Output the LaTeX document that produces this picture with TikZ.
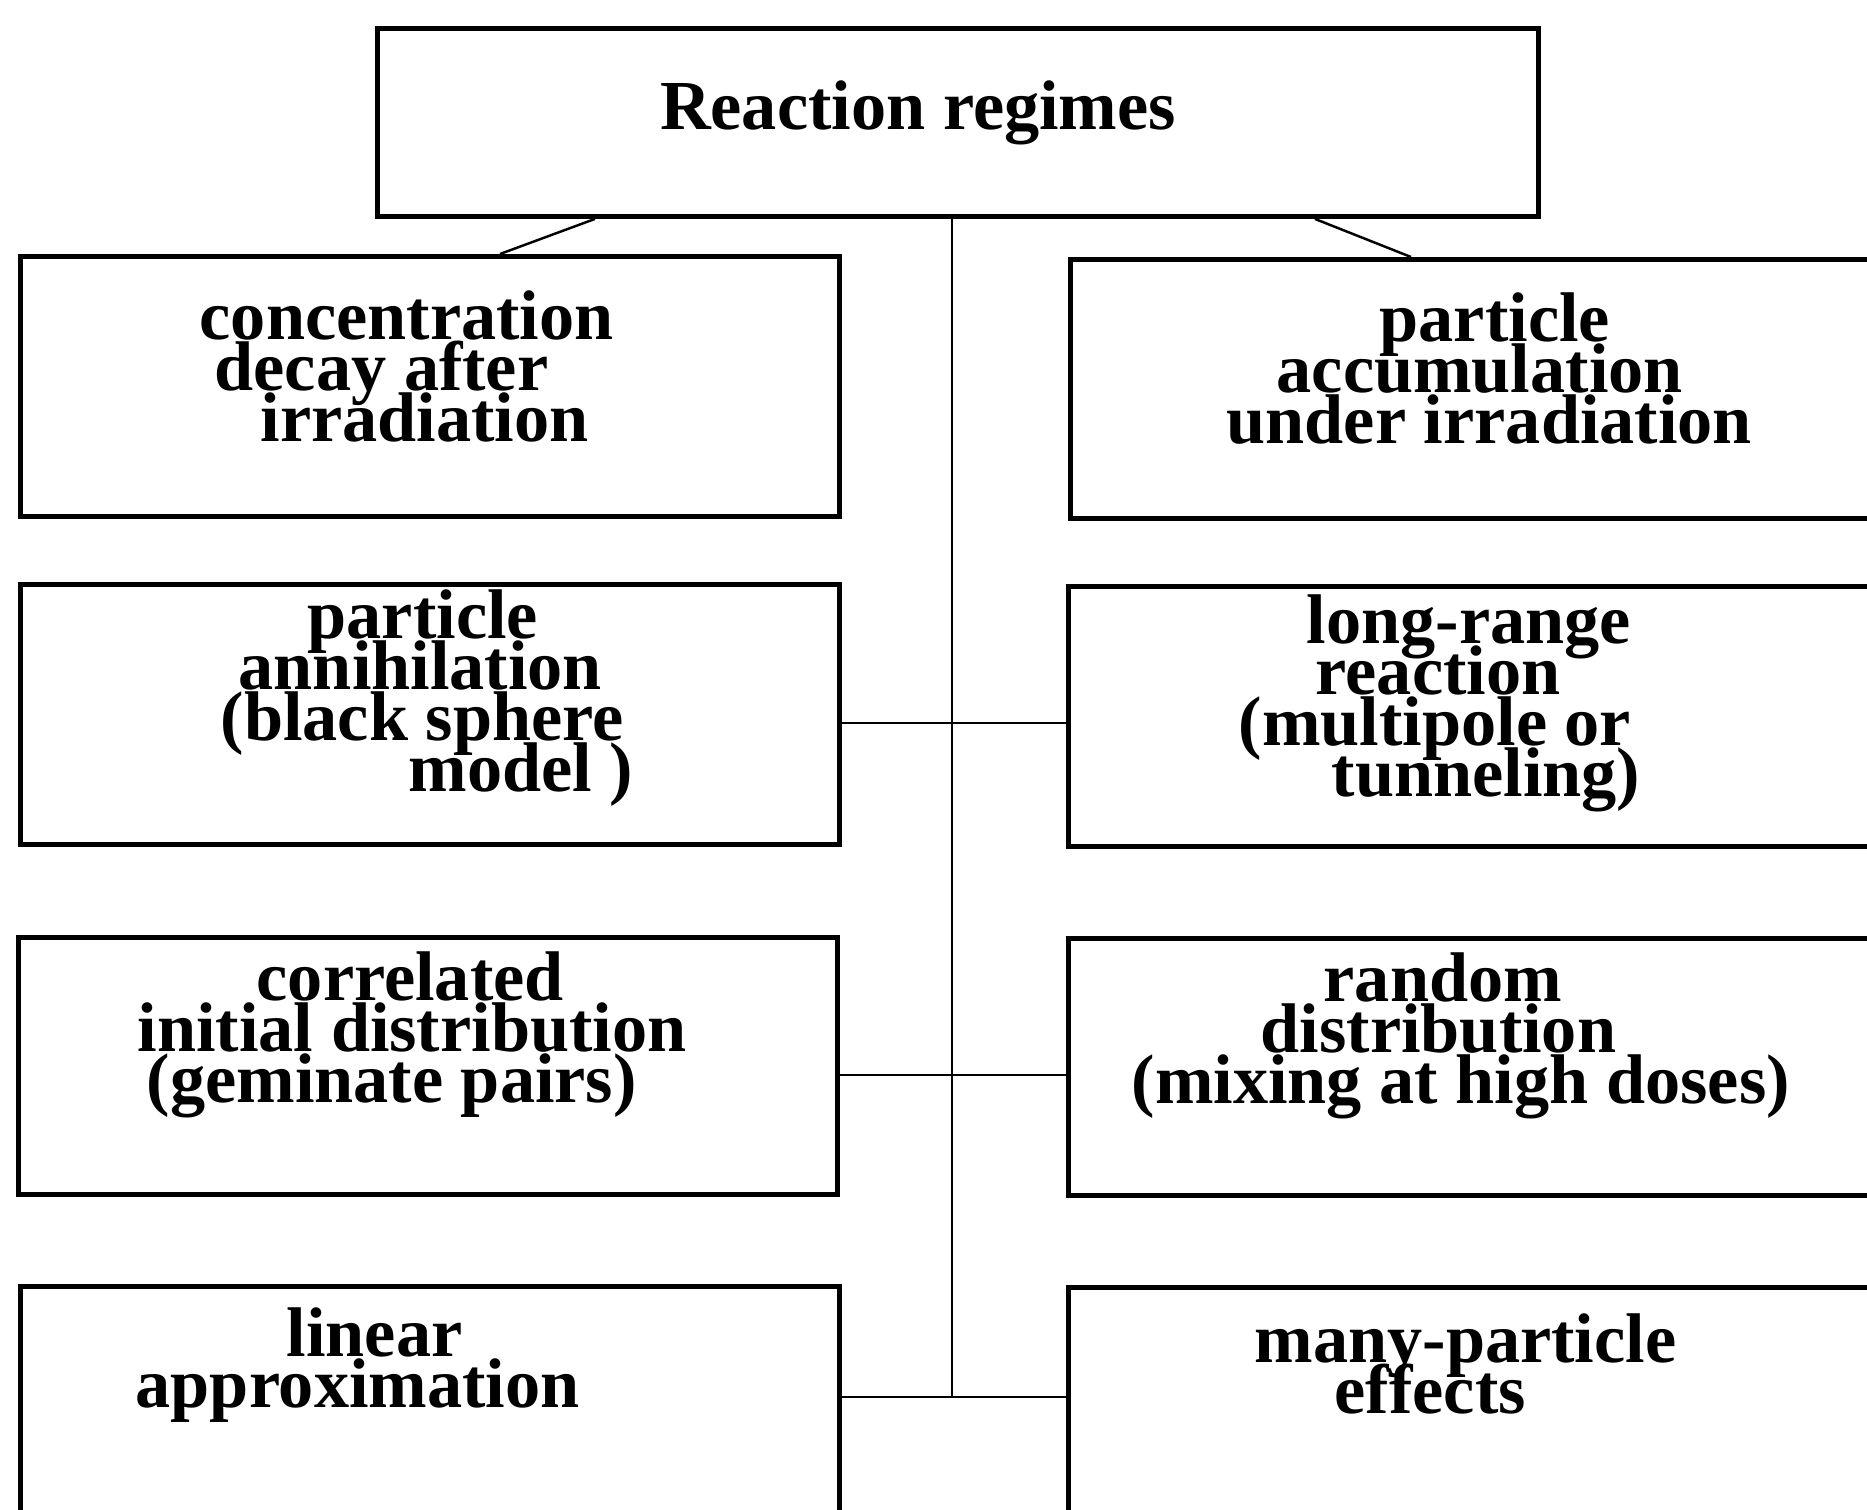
\documentclass[tikz,border=0pt]{standalone}
\usepackage{fontspec}
\setmainfont{Liberation Serif}
\usetikzlibrary{positioning}
\newcommand\tightlines{\lineskiplimit=-100pt\relax\lineskip=0pt\relax}

\begin{document}
\begin{tikzpicture}[
  % Node Styles
  topbox/.style={rectangle, draw, line width=1.4pt, minimum width=11.61cm, minimum height=1.88cm, anchor=north west, inner sep=0pt},
  regbox/.style={rectangle, draw, line width=1.4pt, minimum height=2.60cm, anchor=north west, inner sep=0pt},
  lbox/.style={regbox, minimum width=8.19cm},
  rbox/.style={regbox, minimum width=8.40cm},
  regtext/.style={anchor=west, align=left, inner sep=0pt},
  % Line Styles
  link/.style={line width=0.7pt},
]
\tikzset{font=\bfseries\fontsize{20}{14.5}\selectfont\tightlines}
\useasboundingbox (0,0) rectangle (18.67,-15.10);

% Boxes
\node[topbox] (regimes) at (3.75,-0.26) {};
\node[lbox] (L_decay) at (0.18,-2.54) {};
\node[rbox, minimum height=2.59cm] (R_accum) at (10.68,-2.57) {};
\node[lbox] (L_anni) at (0.18,-5.82) {};
\node[rbox] (R_range) at (10.66,-5.84) {};
\node[lbox, minimum height=2.57cm] (L_gem) at (0.16,-9.35) {};
\node[rbox, minimum height=2.57cm] (R_random) at (10.66,-9.36) {};
\node[lbox, minimum height=2.26cm] (L_linear) at (0.18,-12.84) {};
\node[rbox, minimum height=2.26cm] (R_many) at (10.66,-12.85) {};

% Box texts
\node[regtext, anchor=center] (T_regimes) at (9.18,-1.13) {Reaction regimes};
\node[regtext] (T_decay) at (1.99,-3.66) {concentration\\\hspace*{0.15cm}decay after\\\hspace*{0.61cm}irradiation};
\node[regtext] (T_accum) at (12.26,-3.69) {\hspace*{1.53cm}particle\\\hspace*{0.50cm}accumulation\\under irradiation};
\node[regtext] (T_anni) at (2.20,-6.98) {\hspace*{0.87cm}particle\\\hspace*{0.18cm}annihilation\\(black sphere\\\hspace*{1.88cm}model )};
\node[regtext] (T_range) at (12.38,-7.03) {\hspace*{0.68cm}long-range\\\hspace*{0.77cm}reaction\\(multipole or\\\hspace*{0.93cm}tunneling)};
\node[regtext] (T_gem) at (1.37,-10.35) {\hspace*{1.19cm}correlated\\initial distribution\\\hspace*{0.09cm}(geminate pairs)};
\node[regtext] (T_random) at (11.31,-10.36) {\hspace*{1.92cm}random\\\hspace*{1.29cm}distribution\\(mixing at high doses)};
\node[regtext] (T_linear) at (1.35,-13.65) {\hspace*{1.51cm}linear\\approximation};
\node[regtext] (T_many) at (12.54,-13.64) {many-particle\\\hspace*{0.80cm}effects};

% Junctions on the trunk
\coordinate (J_anni) at (9.52,-7.23);
\coordinate (J_gem) at (9.52,-10.75);
\coordinate (J_linear) at (9.52,-13.97);

% Connectors
\draw[link] ([xshift=2.20cm]regimes.south west) -- ([xshift=4.82cm]L_decay.north west);
\draw[link] ([xshift=-2.26cm]regimes.south east) -- ([xshift=3.43cm]R_accum.north west);
\draw[link] (regimes.south -| J_linear) -- (J_linear);
\draw[link] (L_anni.east |- J_anni) -- (R_range.west |- J_anni);
\draw[link] (L_gem.east |- J_gem) -- (R_random.west |- J_gem);
\draw[link] (L_linear.east |- J_linear) -- (R_many.west |- J_linear);

\end{tikzpicture}
\end{document}
